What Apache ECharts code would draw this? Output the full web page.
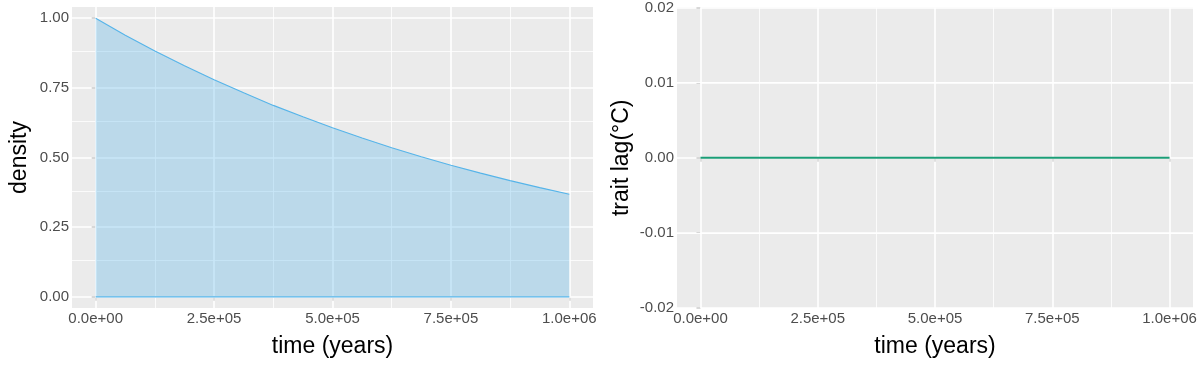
<!DOCTYPE html>
<html>
<head>
<meta charset="utf-8">
<script src="https://cdn.jsdelivr.net/npm/echarts@6/dist/echarts.min.js"></script>
<style>
  html, body { margin: 0; padding: 0; background: #fff; }
  #chart { width: 1200px; height: 366px; }
</style>
</head>
<body>
<div id="chart"></div>
<script>
// time axis (years), shared by both panels
const timeTicks = [0, 250000, 500000, 750000, 1000000];
const timeTickLabels = ['0.0e+00', '2.5e+05', '5.0e+05', '7.5e+05', '1.0e+06'];
const timeMinor = [125000, 375000, 625000, 875000];

// left panel: density through time
const densityTime = [0, 62500, 125000, 187500, 250000, 312500, 375000, 437500, 500000,
  562500, 625000, 687500, 750000, 812500, 875000, 937500, 1000000];
const density = [1.000, 0.939, 0.882, 0.829, 0.779, 0.732, 0.687, 0.646, 0.607,
  0.570, 0.535, 0.503, 0.472, 0.444, 0.417, 0.392, 0.368];
const densityTicks = [0, 0.25, 0.5, 0.75, 1];
const densityTickLabels = ['0.00', '0.25', '0.50', '0.75', '1.00'];
const densityMinor = [0.125, 0.375, 0.625, 0.875];

// right panel: trait lag through time
const lagTime = [0, 1000000];
const lag = [0, 0];
const lagTicks = [-0.02, -0.01, 0, 0.01, 0.02];
const lagTickLabels = ['-0.02', '-0.01', '0.00', '0.01', '0.02'];
const lagMinor = [-0.015, -0.005, 0.005, 0.015];

const FONT = '"Liberation Sans", Arial, sans-serif';
const PANEL = '#EBEBEB';

function labelFor(ticks, labels) {
  return (v) => {
    const i = ticks.findIndex((t) => Math.abs(t - v) < 1e-9);
    return i >= 0 ? labels[i] : '';
  };
}

function xAxisFor(gridIndex) {
  return {
    type: 'value',
    gridIndex,
    min: -50000,
    max: 1050000,
    name: 'time (years)',
    nameLocation: 'middle',
    nameGap: 27,
    nameTextStyle: { fontFamily: FONT, fontSize: 23, color: '#000' },
    axisLine: { show: false },
    axisTick: { show: true, customValues: timeTicks, length: 4, lineStyle: { color: '#333', width: 1.5 } },
    axisLabel: {
      customValues: timeTicks,
      formatter: labelFor(timeTicks, timeTickLabels),
      fontFamily: FONT, fontSize: 15, color: '#4D4D4D', margin: 3
    },
    splitLine: { show: false }
  };
}

function yAxisFor(gridIndex, min, max, ticks, labels, name, gap) {
  return {
    type: 'value',
    gridIndex,
    min, max,
    name,
    nameLocation: 'middle',
    nameGap: gap,
    nameTextStyle: { fontFamily: FONT, fontSize: 23, color: '#000' },
    axisLine: { show: false },
    axisTick: { show: true, customValues: ticks, length: 4, lineStyle: { color: '#333', width: 1.5 } },
    axisLabel: {
      customValues: ticks,
      formatter: labelFor(ticks, labels),
      fontFamily: FONT, fontSize: 15, color: '#4D4D4D', margin: 3
    },
    splitLine: { show: false }
  };
}

function gridLines(idx, yMajor, yMinor) {
  const major = { color: '#fff', width: 1.6, type: 'solid' };
  const minor = { color: '#fff', width: 0.8, type: 'solid' };
  const data = [];
  timeMinor.forEach((v) => data.push({ xAxis: v, lineStyle: minor }));
  yMinor.forEach((v) => data.push({ yAxis: v, lineStyle: minor }));
  timeTicks.forEach((v) => data.push({ xAxis: v, lineStyle: major }));
  yMajor.forEach((v) => data.push({ yAxis: v, lineStyle: major }));
  return {
    type: 'line',
    xAxisIndex: idx,
    yAxisIndex: idx,
    data: [],
    z: 1,
    silent: true,
    markLine: {
      silent: true,
      z: 1,
      symbol: ['none', 'none'],
      label: { show: false },
      emphasis: { disabled: true },
      animation: false,
      data
    }
  };
}

const chart = echarts.init(document.getElementById('chart'));
chart.setOption({
  animation: false,
  grid: [
    { left: 72, top: 7, width: 521, height: 301, show: true, backgroundColor: PANEL, borderWidth: 0 },
    { left: 677, top: 7, width: 516, height: 301, show: true, backgroundColor: PANEL, borderWidth: 0 }
  ],
  xAxis: [xAxisFor(0), xAxisFor(1)],
  yAxis: [
    yAxisFor(0, -0.04, 1.04, densityTicks, densityTickLabels, 'density', 41),
    yAxisFor(1, -0.02, 0.02, lagTicks, lagTickLabels, 'trait lag(°C)', 44)
  ],
  series: [
    gridLines(0, densityTicks, densityMinor),
    gridLines(1, lagTicks, lagMinor),
    {
      type: 'line',
      xAxisIndex: 0,
      yAxisIndex: 0,
      data: densityTime.map((t, i) => [t, density[i]]),
      showSymbol: false,
      z: 3,
      lineStyle: { color: '#56B4E9', width: 1.1 },
      areaStyle: { color: '#56B4E9', opacity: 0.32 }
    },
    {
      // bottom outline of the area
      type: 'line',
      xAxisIndex: 0,
      yAxisIndex: 0,
      data: [[densityTime[0], 0], [densityTime[densityTime.length - 1], 0]],
      showSymbol: false,
      z: 3,
      lineStyle: { color: '#56B4E9', width: 1.1 }
    },
    {
      type: 'line',
      xAxisIndex: 1,
      yAxisIndex: 1,
      data: lagTime.map((t, i) => [t, lag[i]]),
      showSymbol: false,
      z: 3,
      lineStyle: { color: '#1B9E77', width: 2 }
    }
  ]
});
</script>
</body>
</html>
